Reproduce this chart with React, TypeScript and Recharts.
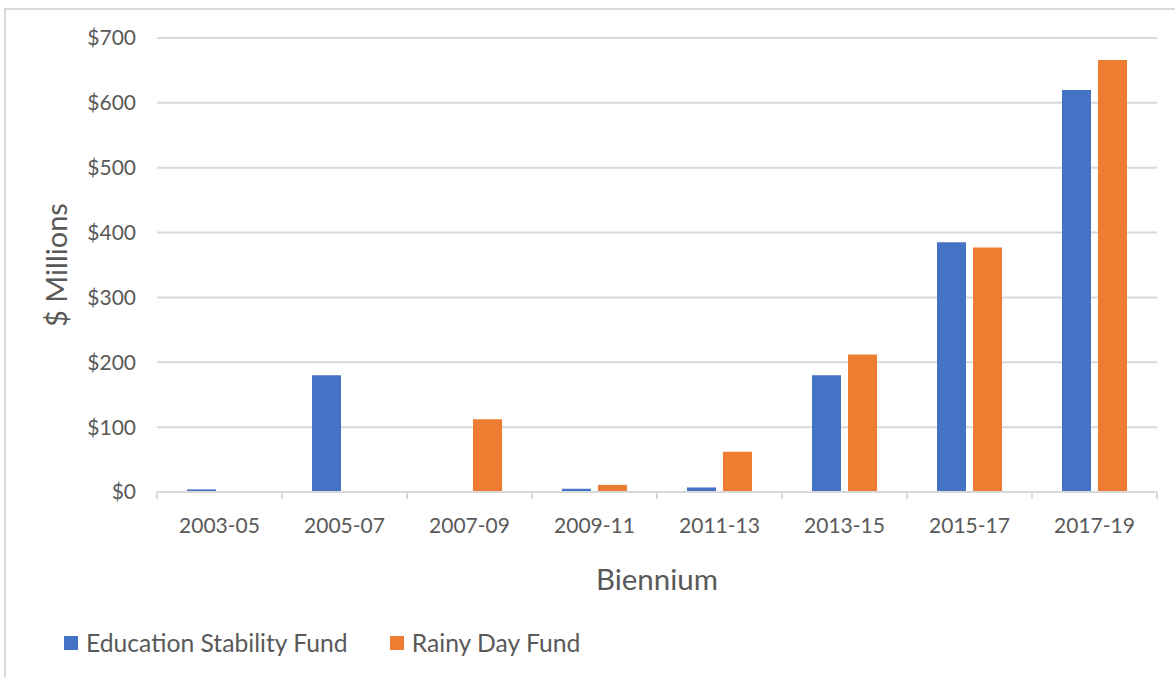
import React from 'react'
import {
  BarChart,
  Bar,
  XAxis,
  YAxis,
  CartesianGrid,
  Label
} from 'recharts'

const bienniums = ['2003-05', '2005-07', '2007-09', '2009-11', '2011-13', '2013-15', '2015-17', '2017-19']
const educationFund = [4, 180, 0, 5, 7, 180, 385, 620]
const rainyDayFund = [0, 0, 112, 11, 62, 212, 377, 666]
const yTicks = [0, 100, 200, 300, 400, 500, 600, 700]

const series = [
  { key: 'esf', name: 'Education Stability Fund', color: '#4472C4' },
  { key: 'rdf', name: 'Rainy Day Fund', color: '#ED7D31' }
]

const data = bienniums.map((b, i) => ({
  biennium: b,
  esf: educationFund[i],
  rdf: rainyDayFund[i]
}))

const W = 1175
const H = 677
const PLOT_LEFT = 157
const PLOT_RIGHT = 1157
const FONT = 'Lato, "Open Sans", sans-serif'
const TEXT = '#595959'
const GRID = '#d9d9d9'

const half = (PLOT_RIGHT - PLOT_LEFT) / bienniums.length / 2

function XTick(props: any) {
  const { x, y, payload, index } = props
  return (
    <g>
      <line x1={x - half} x2={x - half} y1={y} y2={y + 7} stroke={GRID} strokeWidth={2} />
      {index === bienniums.length - 1 && (
        <line x1={x + half} x2={x + half} y1={y} y2={y + 7} stroke={GRID} strokeWidth={2} />
      )}
      <text x={x} y={y + 41} textAnchor="middle" fill={TEXT} fontSize={21} fontFamily={FONT}>
        {payload.value}
      </text>
    </g>
  )
}

export default function App() {
  return (
    <div style={{ position: 'absolute', left: 0, top: 0, width: W, height: H, background: '#fff', overflow: 'hidden' }}>
      <div
        style={{
          position: 'absolute',
          left: 4,
          top: 8,
          width: W + 20,
          height: H + 20,
          border: `2px solid ${GRID}`,
          boxSizing: 'border-box'
        }}
      />
      <BarChart
        width={W}
        height={H}
        data={data}
        margin={{ top: 38, right: W - PLOT_RIGHT, bottom: 0, left: 0 }}
        barCategoryGap="24%"
        barGap={7}
        style={{ position: 'absolute', left: 0, top: 0 }}
      >
        <CartesianGrid vertical={false} stroke={GRID} strokeWidth={2} />
        <XAxis
          dataKey="biennium"
          height={185}
          axisLine={{ stroke: GRID, strokeWidth: 2 }}
          tickLine={false}
          tickSize={0}
          tickMargin={0}
          interval={0}
          tick={<XTick />}
        >
          <Label
            value="Biennium"
            position="insideTop"
            offset={77}
            style={{ fontSize: 29.5, fontFamily: FONT, fill: TEXT }}
          />
        </XAxis>
        <YAxis
          width={PLOT_LEFT}
          domain={[0, 700]}
          ticks={yTicks}
          axisLine={false}
          tickLine={false}
          tickSize={0}
          tickMargin={21}
          tickFormatter={(v: number) => `$${v}`}
          tick={{ fontSize: 21, fontFamily: FONT, fill: TEXT }}
        >
          <Label
            content={() => (
              <text
                x={67}
                y={265}
                transform="rotate(-90, 67, 265)"
                textAnchor="middle"
                fontSize={29}
                fontFamily={FONT}
                fill={TEXT}
              >
                $ Millions
              </text>
            )}
          />
        </YAxis>
        {series.map((s) => (
          <Bar key={s.key} dataKey={s.key} name={s.name} fill={s.color} isAnimationActive={false} />
        ))}
      </BarChart>
      <div
        style={{
          position: 'absolute',
          left: 64,
          top: 628,
          display: 'flex',
          alignItems: 'center',
          gap: 42,
          fontFamily: FONT,
          fontSize: 24.7,
          color: TEXT,
          lineHeight: '30px'
        }}
      >
        {series.map((s) => (
          <div key={s.key} style={{ display: 'flex', alignItems: 'center', gap: 8 }}>
            <span style={{ width: 14, height: 14, background: s.color, display: 'inline-block' }} />
            <span>{s.name}</span>
          </div>
        ))}
      </div>
    </div>
  )
}
